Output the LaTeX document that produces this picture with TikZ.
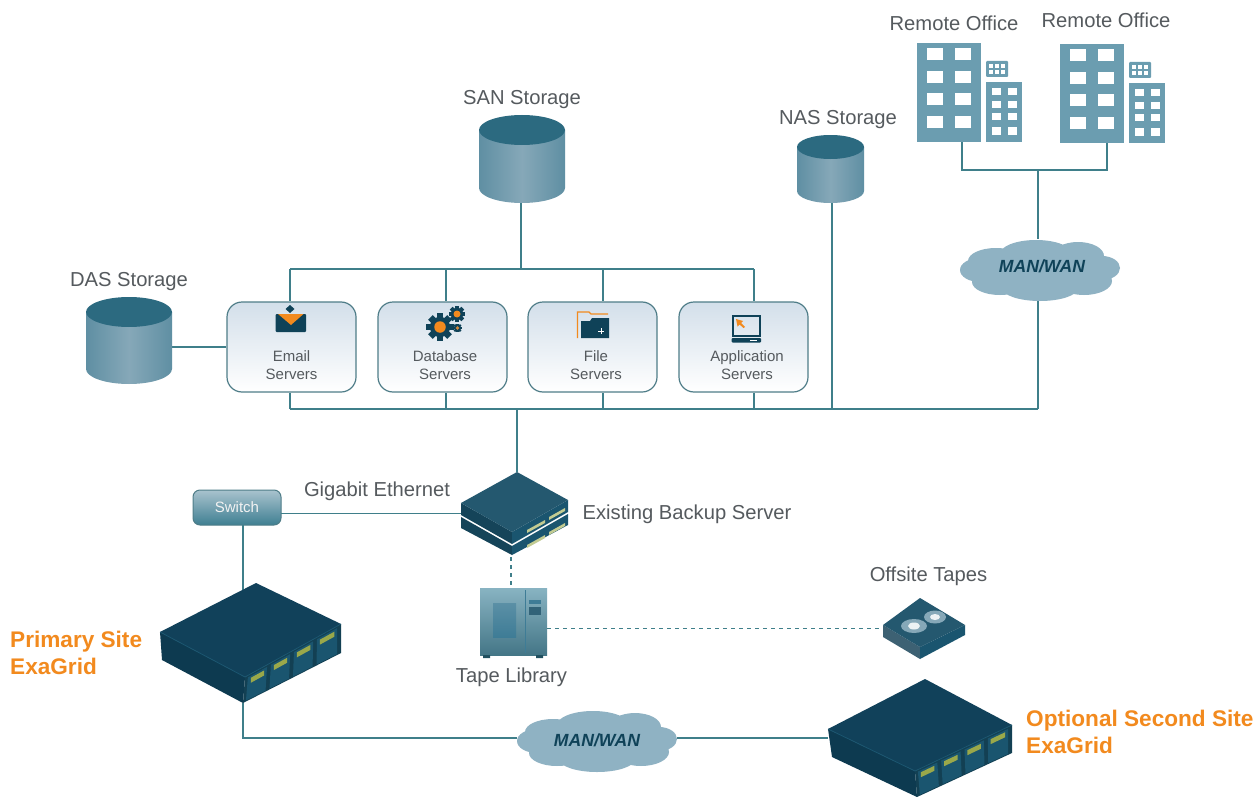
\documentclass[tikz,border=0pt]{standalone}
\usepackage{fontspec}
\setmainfont{Liberation Sans}
\usetikzlibrary{calc,positioning}
\definecolor{linec}{HTML}{3F7F8A}
\definecolor{textc}{HTML}{555A5E}
\definecolor{boxedge}{HTML}{4F7D88}
\definecolor{orangec}{HTML}{F28A1E}
\definecolor{navy}{HTML}{0F4258}
\definecolor{navytop}{HTML}{11415A}
\definecolor{navyleft}{HTML}{0D3A50}
\definecolor{navyright}{HTML}{1A556F}
\definecolor{strip}{HTML}{9AA84A}
\definecolor{bldg}{HTML}{6B9DB0}
\definecolor{cloudc}{HTML}{8FB2C3}
\definecolor{cylmid}{HTML}{86A8B8}
\definecolor{cylside}{HTML}{5F8FA3}
\definecolor{cyltop}{HTML}{2C6A80}
\definecolor{ffboxtop}{HTML}{D3DFEA}
\definecolor{ffswitchtop}{HTML}{A9C3CE}
\definecolor{ffswitchbot}{HTML}{3F7F92}
\definecolor{srvtop}{HTML}{24586F}
\definecolor{libbody}{HTML}{5593A8}
\definecolor{libdark}{HTML}{3E7C96}
\tikzset{
  conn/.style={draw=linec,line width=1.3pt},
  dashconn/.style={draw=linec,line width=1.2pt,dash pattern=on 4pt off 4pt},
  lab/.style={text=textc,font=\fontsize{20.2}{24}\selectfont,inner sep=0pt},
  smalllab/.style={text=textc,font=\fontsize{15}{18}\selectfont,align=center,inner sep=0pt},
  sitelab/.style={text=orangec,font=\fontsize{22.6}{27}\selectfont\bfseries,align=left,inner sep=0pt,anchor=west},
  srvbox/.style={draw=boxedge,line width=1.2pt,rounded corners=15pt,minimum width=129pt,minimum height=90pt,
    top color=ffboxtop,bottom color=white,inner sep=0pt},
  ref/.style={inner sep=0pt,outer sep=0pt},
  cloudlab/.style={text=navy,font=\fontsize{17.6}{20}\selectfont\bfseries\itshape,inner sep=0pt},
}
\newcommand{\drawcyl}[5]{% cx, topcentre y, rx, ry, bottom centre y
  \path[left color=cylside,right color=cylside,middle color=cylmid]
    (#1-#3,#2) -- (#1-#3,#5) arc[start angle=180,end angle=360,x radius=#3pt,y radius=#4pt] -- (#1+#3,#2) -- cycle;
  \fill[cyltop] (#1,#2) ellipse[x radius=#3pt,y radius=#4pt];
}
\newcommand{\drawcloud}[3]{% cx, cy, scale
  \begin{scope}[shift={(#1,#2)},x=#3pt,y=#3pt]
    \fill[cloudc] (0,0) ellipse[x radius=66,y radius=22]
      (-60,0) ellipse[x radius=20,y radius=12]
      (-44,9) ellipse[x radius=28,y radius=13]
      (-4,16) ellipse[x radius=36,y radius=14]
      (38,14) ellipse[x radius=26,y radius=14]
      (62,2) ellipse[x radius=18,y radius=12]
      (44,-11) ellipse[x radius=28,y radius=14]
      (0,-18) ellipse[x radius=38,y radius=13]
      (-40,-12) ellipse[x radius=28,y radius=13];
  \end{scope}
}
\newcommand{\drawappl}[7]{% top left right front leftbottom frontbottom rightbottom
  \fill[navyleft] #2 -- #4 -- #6 -- #5 -- cycle;
  \fill[navyright!75!black] #4 -- #3 -- #7 -- #6 -- cycle;
  \fill[navytop] #1 -- #2 -- #4 -- #3 -- cycle;
  \draw[navyright,line width=.8pt] #2 -- #4 -- #3;
  \foreach \ta/\tb in {.03/.23,.27/.47,.51/.71,.75/.96}{
    \fill[navyright]
      ($#4!\ta!#3+(0,2)$) -- ($#4!\tb!#3+(0,2)$) -- ($#6!\tb!#7+(0,-1)$) -- ($#6!\ta!#7+(0,-1)$) -- cycle;
    \fill[strip]
      ($#4!\ta+.03!#3+(0,4)$) -- ($#4!\tb-.03!#3+(0,4)$) -- ($#4!\tb-.03!#3+(0,9)$) -- ($#4!\ta+.03!#3+(0,9)$) -- cycle;
  }
}
\newcommand{\drawbuilding}[2]{% dx dy
  \begin{scope}[shift={(#1,#2)}]
    \fill[bldg] (917,43) rectangle (981,142);
    \fill[bldg] (986,82) rectangle (1022,142);
    \fill[bldg,rounded corners=1pt] (986,61) rectangle (1008,77);
    \foreach \yy in {48,71,93,116}{
      \fill[white] (927,\yy) rectangle +(16,12.5);
      \fill[white] (955,\yy) rectangle +(16,12.5);
    }
    \foreach \yy in {88,101,113,127}{
      \fill[white] (992,\yy) rectangle +(9,7.5);
      \fill[white] (1008,\yy) rectangle +(9,7.5);
    }
    \foreach \xx in {989,995,1001}{
      \fill[white] (\xx,64) rectangle +(4,4);
      \fill[white] (\xx,70) rectangle +(4,4);
    }
  \end{scope}
}
\newcommand{\drawgear}[4]{% cx cy r centre colour
  \begin{scope}[shift={(#1,#2)}]
    \foreach \a in {0,45,...,315}{
      \fill[navy,rotate=\a] (-#3*.28,#3*.7) rectangle (#3*.28,#3*1.18);
    }
    \fill[navy] (0,0) circle[radius=#3*.88pt];
    \fill[#4] (0,0) circle[radius=#3*.5pt];
  \end{scope}
}
\begin{document}
\begin{tikzpicture}[x=1pt,y=-1pt]
\useasboundingbox (0,0) rectangle (1260,797);
\fill[white] (0,0) rectangle (1260,797);

% reference nodes for pictured objects
\node[ref,minimum width=86pt,minimum height=88pt] (san) at (522,159) {};
\node[ref,minimum width=86pt,minimum height=86pt] (das) at (129,341) {};
\node[ref,minimum width=67pt,minimum height=68pt] (nas) at (830.5,168) {};
\node[ref,minimum width=64pt,minimum height=99pt] (bld1) at (949,92.5) {};
\node[ref,minimum width=64pt,minimum height=99pt] (bld2) at (1092,93.5) {};
\node[ref,minimum width=108pt,minimum height=84pt] (backup) at (514.5,513.5) {};
\node[ref,minimum width=67pt,minimum height=67pt] (tapelib) at (513.5,621.5) {};
\node[ref,minimum width=82pt,minimum height=61pt] (tapes) at (924,628.5) {};
\node[ref,minimum width=181pt,minimum height=120pt] (exa1) at (250.5,643) {};
\node[ref,minimum width=184pt,minimum height=118pt] (exa2) at (920,738) {};
\node[ref,minimum width=160pt,minimum height=60pt] (wan1) at (1038,269) {};
\node[ref,minimum width=160pt,minimum height=56pt] (wan2) at (597,738) {};

% server boxes
\node[srvbox] (email) at (291.5,347) {};
\node[srvbox] (db) at (442.5,347) {};
\node[srvbox] (file) at (592.5,347) {};
\node[srvbox] (app) at (743.5,347) {};
\node[smalllab] (emailt) at (291.5,365) {Email\\Servers};
\node[smalllab] (dbt) at (445,365) {Database\\Servers};
\node[smalllab] (filet) at (596,365) {File\\Servers};
\node[smalllab] (appt) at (747,365) {Application\\Servers};

% junctions
\coordinate (busTl) at (290,269);
\coordinate (busTd) at (446,269);
\coordinate (busTf) at (603,269);
\coordinate (busTa) at (754,269);
\coordinate (busBl) at (290,409);
\coordinate (busBd) at (446,409);
\coordinate (busBf) at (603,409);
\coordinate (busBa) at (754,409);
\coordinate (busBn) at (832,409);
\coordinate (busBc) at (517,409);
\coordinate (busBr) at (1038,409);
\coordinate (busS) at (521,269);
\coordinate (hub) at (1038,170);
\coordinate (b1j) at (962,170);
\coordinate (b2j) at (1107,170);
\coordinate (sw) at (243,738);
\coordinate (swtop) at (243,590);
\coordinate (exa1b) at (243,703);

% connectors
\draw[conn] (busS |- san.south) -- (busS);
\draw[conn] (busTl) -- (busTa);
\draw[conn] (busTl) -- (busTl |- email.north);
\draw[conn] (busTd) -- (busTd |- db.north);
\draw[conn] (busTf) -- (busTf |- file.north);
\draw[conn] (busTa) -- (busTa |- app.north);
\draw[conn] (das.east |- email.west) -- (email.west);
\draw[conn] (busBl) -- (busBr);
\draw[conn] (busBl) -- (busBl |- email.south);
\draw[conn] (busBd) -- (busBd |- db.south);
\draw[conn] (busBf) -- (busBf |- file.south);
\draw[conn] (busBa) -- (busBa |- app.south);
\draw[conn] (busBn) -- (busBn |- nas.south);
\draw[conn] (b1j |- bld1.south) -- (b1j) -- (b2j) -- (b2j |- bld2.south);
\draw[conn] (hub) -- (wan1.north);
\draw[conn] (wan1.south) -- (busBr);
\draw[conn] (busBc) -- (busBc |- backup.north);
\draw[conn] (exa1b) -- (sw) -- (wan2.west);
\draw[conn] (wan2.east) -- (exa2.west |- wan2.east);

% storage
\drawcyl{522}{130}{43}{15}{188}
\drawcyl{129}{312}{43}{15}{369}
\drawcyl{830.5}{147}{33.5}{12}{191}

% buildings
\drawbuilding{0}{0}
\drawbuilding{143}{1}

% clouds
\drawcloud{1040}{270}{1}
\node[cloudlab] (wan1t) at (1042,266) {MAN/WAN};
\drawcloud{597}{741}{1}
\node[cloudlab] (wan2t) at (597,740) {MAN/WAN};

% labels
\node[lab] (sanl) at (522,100) {SAN Storage};
\node[lab] (nasl) at (838,120) {NAS Storage};
\node[lab] (dasl) at (129,282) {DAS Storage};
\node[lab] (rem1) at (954,23) {Remote Office};
\node[lab] (rem2) at (1106,20) {Remote Office};
\node[lab] (gige) at (377,491) {Gigabit Ethernet};
\node[lab] (bkl) at (687,514) {Existing Backup Server};
\node[lab] (tll) at (511.5,677) {Tape Library};
\node[lab] (otl) at (928.5,576) {Offsite Tapes};
\node[sitelab] (prim) at (10,653) {Primary Site\\ExaGrid};
\node[sitelab] (sec) at (1026,732) {Optional Second Site\\ExaGrid};

% icons
% email
\fill[navy,rounded corners=1pt] (275.5,314) rectangle (306,332);
\fill[orangec] (278,314) -- (303.5,314) -- (291,325) -- cycle;
\fill[navy] (290,305) -- (294.5,309) -- (290,313) -- (285.5,309) -- cycle;
% gears
\drawgear{440}{327}{11.5}{orangec}
\drawgear{457}{314}{7}{orangec}
\drawgear{457.5}{328}{3.8}{orangec!70!gray}
% folder
\draw[orangec,line width=1.4pt] (577.5,338) -- (577.5,312) -- (589,312) -- (591,314) -- (608,314);
\fill[navy] (581,338) -- (581,321) -- (590,321) -- (592,318) -- (609,318) -- (609,338) -- cycle;
\draw[white,line width=.9pt] (601,328) -- (601,334) (598,331) -- (604,331);
% application
\draw[navy,line width=2pt] (733,316) rectangle (759.5,336);
\fill[orangec] (736,319) -- (743,321) -- (741,323) -- (745,327) -- (743.5,328) -- (739.5,324.5) -- (737.5,326.5) -- cycle;
\fill[navy,rounded corners=1pt] (731.5,338) rectangle (761,342.5);
\fill[white] (750,339.7) rectangle (757,340.7);

% switch
\node[ref,draw=boxedge,line width=1pt,rounded corners=7pt,minimum width=88pt,minimum height=35pt,
  top color=ffswitchtop,bottom color=ffswitchbot,text=white!90!gray,font=\fontsize{15}{16}\selectfont] (switch) at (237,507.5) {Switch};
\draw[conn] (switch.east |- backup.west) -- (backup.west);
\draw[conn] (swtop |- switch.south) -- (swtop);

% backup server
\fill[navyright!80!black] (461,517) -- (512,546) -- (512,555) -- (461,528) -- cycle;
\fill[navyright] (512,546) -- (568,514) -- (568,525) -- (512,555) -- cycle;
\fill[navyright!80!black] (461,503) -- (512,532) -- (512,544) -- (461,515) -- cycle;
\fill[navyright] (512,532) -- (568,500) -- (568,512) -- (512,544) -- cycle;
\fill[srvtop] (517,472) -- (461,503) -- (512,532) -- (568,500) -- cycle;
\fill[strip!60!white] (527,530) -- (545,520) -- (545,523) -- (527,533) -- cycle;
\fill[strip!60!white] (549,517) -- (565,508) -- (565,511) -- (549,520) -- cycle;
\fill[strip!60!white] (527,545) -- (545,535) -- (545,538) -- (527,548) -- cycle;
\fill[strip!60!white] (549,532) -- (565,523) -- (565,526) -- (549,535) -- cycle;

% tape library
\path[top color=libbody!70!white,bottom color=libbody!80!black] (480,588) rectangle (547,655);
\fill[cyltop!75!black] (483,655) rectangle (490,658) (536,655) rectangle (543,658);
\path[top color=libdark!85!white,bottom color=libdark] (493,603) rectangle (516,637);
\draw[libdark,line width=.8pt] (525,590) -- (525,653);
\fill[libdark!80!black] (529,607) rectangle (541,615);
\fill[libdark] (529,600) rectangle (541,604);
\draw[dashconn] (511,557) -- (511,588);
\draw[dashconn] (tapelib.east |- tapes.west) -- (tapes.west);

% offsite tapes
\fill[navyleft!80!white] (883,625) -- (920,647) -- (920,659) -- (883,637) -- cycle;
\fill[navyright] (920,647) -- (965,625) -- (965,635) -- (920,659) -- cycle;
\fill[srvtop] (920,598) -- (883,625) -- (920,647) -- (965,625) -- cycle;
\fill[cylmid] (935,617) ellipse[x radius=11pt,y radius=6.5pt];
\fill[white!85!cylmid] (935,617) ellipse[x radius=5pt,y radius=3pt];
\fill[cylmid] (914,626) ellipse[x radius=13pt,y radius=7pt];
\fill[white!85!cylmid] (914,626) ellipse[x radius=6pt,y radius=3.5pt];

% appliances
\drawappl{(256,583)}{(160,632)}{(341,624)}{(245,677)}{(162,660)}{(243,703)}{(341,653)}
\drawappl{(925,679)}{(828,729)}{(1012,725)}{(915,771)}{(832,757)}{(917,797)}{(1012,753)}
\end{tikzpicture}
\end{document}
